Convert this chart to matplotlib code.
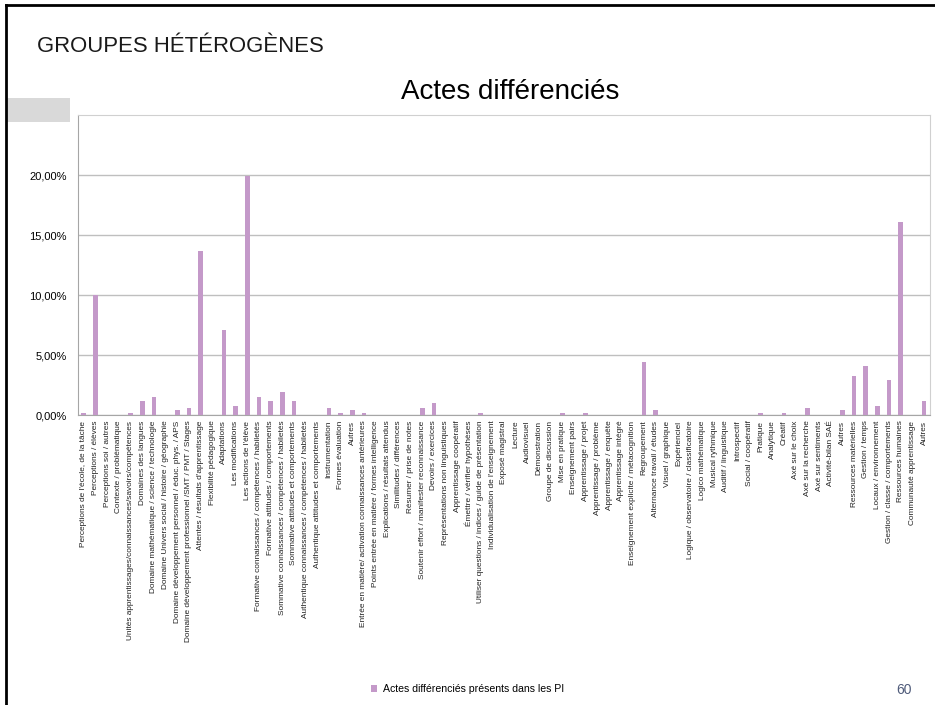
import matplotlib.pyplot as plt
from matplotlib.lines import Line2D
from matplotlib.patches import Rectangle
from matplotlib.ticker import FuncFormatter

categories = [
    "Perceptions de l'école, de la tâche",
    "Perceptions / élèves",
    "Perceptions soi / autres",
    "Contexte / problématique",
    "Unités apprentissages/connaissances/savoirs/compétences",
    "Domaines des langues",
    "Domaine mathématique / science / technologie",
    "Domaine Univers social / histoire / géographie",
    "Domaine développement personnel / éduc. phys. / APS",
    "Domaine développement professionnel /SMT / PMT / Stages",
    "Attentes / résultats d'apprentissage",
    "Flexibilité pédagogique",
    "Adaptations",
    "Les modifications",
    "Les actions de l'élève",
    "Formative connaissances / compétences / habiletés",
    "Formative attitudes / comportements",
    "Sommative connaissances / compétences / habiletés",
    "Sommative attitudes et comportements",
    "Authentique connaissances / compétences / habiletés",
    "Authentique attitudes et comportements",
    "Instrumentation",
    "Formes évaluation",
    "Autres",
    "Entrée en matière/ activation connaissances antérieures",
    "Points entrée en matière / formes intelligence",
    "Explications / résultats attendus",
    "Similitudes / différences",
    "Résumer / prise de notes",
    "Soutenir effort / manifester reconnaissance",
    "Devoirs / exercices",
    "Représentations non linguistiques",
    "Apprentissage coopératif",
    "Émettre / vérifier hypothèses",
    "Utiliser questions / indices / guide de présentation",
    "Individualisation de l'enseignement",
    "Exposé magistral",
    "Lecture",
    "Audiovisuel",
    "Démonstration",
    "Groupe de discussion",
    "Mise en pratique",
    "Enseignement pairs",
    "Apprentissage / projet",
    "Apprentissage / problème",
    "Apprentissage / enquête",
    "Apprentissage intégré",
    "Enseignement explicite / métacognition",
    "Regroupement",
    "Alternance travail / études",
    "Visuel / graphique",
    "Expérienciel",
    "Logique / observatoire / classificatoire",
    "Logico mathématique",
    "Musical rythmique",
    "Auditif / linguistique",
    "Introspectif",
    "Social / coopératif",
    "Pratique",
    "Analytique",
    "Créatif",
    "Axé sur le choix",
    "Axé sur la recherche",
    "Axé sur sentiments",
    "Activité-bilan SAÉ",
    "Autres",
    "Ressources matérielles",
    "Gestion / temps",
    "Locaux / environnement",
    "Gestion / classe / comportements",
    "Ressources humaines",
    "Communauté apprentissage",
    "Autres",
]

# pourcentages des actes différenciés
values = [
    0.19, 10.04, 0, 0, 0.19, 1.16, 1.54, 0, 0.39, 0.58,
    13.71, 0, 7.05, 0.77, 19.88, 1.54, 1.16, 1.93, 1.16, 0,
    0, 0.58, 0.19, 0.39, 0.19, 0, 0, 0, 0, 0.58,
    0.97, 0, 0, 0, 0.19, 0, 0, 0, 0, 0,
    0, 0.19, 0, 0.19, 0, 0, 0, 0, 4.45, 0.39,
    0, 0, 0, 0, 0, 0, 0, 0, 0.19, 0,
    0.19, 0, 0.58, 0, 0, 0.39, 3.28, 4.09, 0.77, 2.95,
    16.05, 0, 1.16,
]

yticks = [0, 5, 10, 15, 20]
bar_color = '#c499c9'
grid_color = '#bfbfbf'

plt.rcParams['font.family'] = ['Liberation Sans', 'DejaVu Sans']

fig = plt.figure(figsize=(9.35, 7.05), dpi=100)
ax = fig.add_axes([0.0834, 0.4113, 0.9112, 0.4255])

x = range(len(categories))
ax.bar(x, values, width=0.4, color=bar_color, zorder=3,
       label='Actes différenciés présents dans les PI')

ax.set_xlim(-0.5, len(categories) - 0.5)
ax.set_ylim(0, 25)
ax.set_yticks(yticks)
ax.yaxis.set_major_formatter(FuncFormatter(lambda v, p: f'{v:.2f}%'.replace('.', ',')))
ax.tick_params(axis='y', labelsize=8, length=0, pad=8)
ax.grid(axis='y', color=grid_color, linewidth=1, zorder=0)

ax.set_xticks(list(x))
ax.set_xticklabels(categories, rotation=90, fontsize=5.95, color='#222222')
ax.tick_params(axis='x', length=0, pad=4)

for side in ['top', 'right']:
    ax.spines[side].set_color('#d0d0d0')
ax.spines['left'].set_color('#a6a6a6')
ax.spines['bottom'].set_color('#a6a6a6')

fig.legend(loc='center', bbox_to_anchor=(0.5, 0.022), frameon=False,
           fontsize=7.6, handlelength=0.6, handleheight=0.6, handletextpad=0.5)

# en-tête et décor de la diapositive
fig.text(0.5455, 0.870, 'Actes différenciés', fontsize=20, ha='center', va='center')
fig.text(0.040, 0.934, 'GROUPES HÉTÉROGÈNES', fontsize=15.9, ha='left', va='center',
         color='#1a1a1a')
fig.text(0.975, 0.021, '60', fontsize=10, ha='right', va='center', color='#4f5b7a')
fig.add_artist(Rectangle((0.006, 0.827), 0.069, 0.034, transform=fig.transFigure,
                         facecolor='#d9d9d9', edgecolor='none'))
fig.add_artist(Line2D([0.006, 1.0], [0.993, 0.993], transform=fig.transFigure,
                      color='black', linewidth=2))
fig.add_artist(Line2D([0.006, 0.006], [0.0, 0.993], transform=fig.transFigure,
                      color='black', linewidth=2))

fig.savefig('out.png', dpi=100)
